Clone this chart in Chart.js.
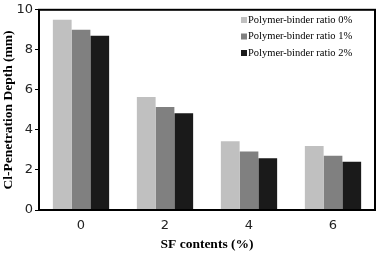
<!DOCTYPE html>
<html>
<head>
<meta charset="utf-8">
<script src="https://cdn.jsdelivr.net/npm/chart.js@4"></script>
<style>
  html, body { margin: 0; padding: 0; background: #fff; }
  #wrap { width: 378px; height: 253px; }
</style>
</head>
<body>
<div id="wrap"><canvas id="chart" width="378" height="253"></canvas></div>
<script>
const categories = ['0', '2', '4', '6'];
const seriesNames = ['Polymer-binder ratio 0%', 'Polymer-binder ratio 1%', 'Polymer-binder ratio 2%'];
const ratio0 = [9.5, 5.65, 3.43, 3.2];
const ratio1 = [9.0, 5.15, 2.92, 2.71];
const ratio2 = [8.7, 4.83, 2.58, 2.41];
const seriesColors = ['#c0c0c0', '#808080', '#1a1a1a'];
const xTitle = 'SF contents (%)';
const yTitle = 'Cl-Penetration Depth (mm)';

// frame round the plot area + legend inside it
const extras = {
    id: 'extras',
    afterDraw(chart) {
        const {ctx, chartArea: a} = chart;
        ctx.save();
        ctx.strokeStyle = '#000';
        ctx.lineWidth = 2;
        ctx.strokeRect(a.left, a.top, a.right - a.left, a.bottom - a.top);

        ctx.font = '10.5px "Liberation Serif"';
        ctx.textBaseline = 'middle';
        ctx.textAlign = 'left';
        chart.data.datasets.forEach((ds, i) => {
            const y = 20 + i * 16.5;
            ctx.fillStyle = ds.backgroundColor;
            ctx.fillRect(241, y - 3, 6, 6);
            ctx.fillStyle = '#000';
            ctx.fillText(ds.label, 248, y);
        });
        ctx.restore();
    }
};

new Chart(document.getElementById('chart'), {
    type: 'bar',
    data: {
        labels: categories,
        datasets: [ratio0, ratio1, ratio2].map((d, i) => ({
            label: seriesNames[i],
            data: d,
            backgroundColor: seriesColors[i],
            borderWidth: 0,
            barPercentage: 1,
            categoryPercentage: 0.67
        }))
    },
    options: {
        responsive: false,
        animation: false,
        layout: {padding: {top: 7, right: 3, left: 0, bottom: 0}},
        plugins: {legend: {display: false}, tooltip: {enabled: false}},
        scales: {
            x: {
                grid: {display: false},
                border: {display: false},
                ticks: {color: '#222', font: {family: 'DejaVu Sans', size: 13}, padding: 0},
                title: {display: true, text: xTitle, color: '#000', font: {family: 'Liberation Serif', size: 13.5, weight: 'bold'}, padding: {top: 2, bottom: 0}},
                afterFit: s => { s.height = 43; }
            },
            y: {
                min: 0, max: 10,
                grid: {drawOnChartArea: false, drawTicks: true, tickLength: 4, color: '#000'},
                border: {display: false},
                ticks: {stepSize: 2, color: '#222', font: {family: 'DejaVu Sans', size: 13}, padding: 2},
                title: {display: true, text: yTitle, color: '#000', font: {family: 'Liberation Serif', size: 13.5, weight: 'bold'}, padding: 0},
                afterFit: s => { s.width = 39; }
            }
        }
    },
    plugins: [extras]
});
</script>
</body>
</html>
